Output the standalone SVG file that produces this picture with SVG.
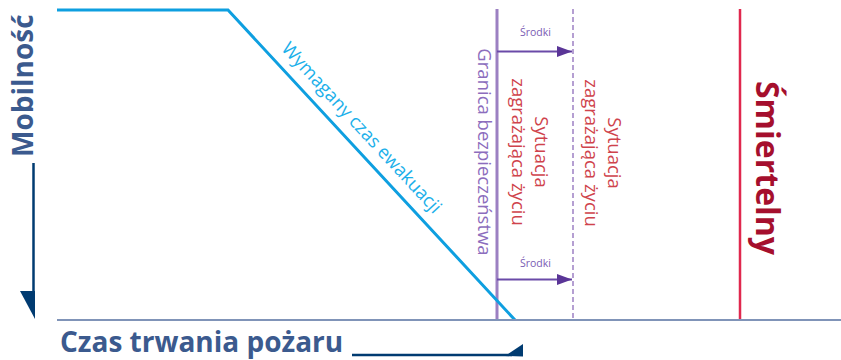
<svg xmlns="http://www.w3.org/2000/svg" width="841" height="360" viewBox="0 0 841 360">
<style>
.f{font-family:"Open Sans","Liberation Sans",sans-serif}
.ax{font-weight:700;fill:#3b5a8e;font-size:28px}
.red{font-size:18.5px;fill:#cf434c;text-anchor:middle}
.pur{fill:#8c6dbd}
.sr{font-size:10.5px;fill:#7a5bb3}
.nav{stroke:#003b71;stroke-width:2.5;fill:none}
.navf{fill:#003b71}
.pa{stroke:#6a4aa8;stroke-width:2;fill:none;marker-end:url(#ah)}
</style>
<defs>
<marker id="ah" markerUnits="userSpaceOnUse" markerWidth="16" markerHeight="12" refX="15" refY="6" orient="auto" viewBox="0 0 16 12">
<path d="M0,0.5 L15,6 L0,11.5 Z" fill="#5a3597"/>
</marker>
</defs>
<rect width="841" height="360" fill="#ffffff"/>

<g id="boundary-lines">
<line x1="497" y1="9" x2="497" y2="320" stroke="#9c80c2" stroke-width="3"/>
<line x1="573" y1="9" x2="573" y2="320" stroke="#9d80c4" stroke-width="1.5" stroke-dasharray="5 3"/>
<line x1="740" y1="9" x2="740" y2="320" stroke="#e0284e" stroke-width="2.5"/>
</g>

<g id="evacuation-curve">
<polyline points="57,10 228,10 515,320" fill="none" stroke="#0e9fe0" stroke-width="3"/>
<text class="f" transform="translate(357,132) rotate(47.2)" font-size="18.5" fill="#1cb0ea" text-anchor="middle">Wymagany czas ewakuacji</text>
</g>

<g id="time-axis">
<line x1="57" y1="320" x2="841" y2="320" stroke="#8094b8" stroke-width="2"/>
</g>

<g id="mobility-label">
<text class="f ax" transform="translate(33,157) rotate(-90)">Mobilność</text>
</g>
<g id="time-label">
<text class="f ax" x="60" y="352">Czas trwania pożaru</text>
</g>

<g id="safety-limit">
<text class="f pur" font-size="18.5" text-anchor="middle" transform="translate(478,152) rotate(90)">Granica bezpieczeństwa</text>
</g>

<g id="threat-1">
<text class="f red" transform="translate(535,152) rotate(90)">Sytuacja</text>
<text class="f red" transform="translate(512,152) rotate(90)">zagrażająca życiu</text>
</g>
<g id="threat-2">
<text class="f red" transform="translate(608,153) rotate(90)">Sytuacja</text>
<text class="f red" transform="translate(585,153) rotate(90)">zagrażająca życiu</text>
</g>

<g id="fatal">
<text class="f" font-weight="700" font-size="32" fill="#a50f2d" text-anchor="middle" transform="translate(756,168) rotate(90)">Śmiertelny</text>
</g>

<g id="measures-labels">
<text class="f sr" x="520" y="36">Środki</text>
<text class="f sr" x="520" y="267">Środki</text>
</g>

<g id="connectors">
<line class="nav" x1="33.5" y1="163" x2="33.5" y2="300"/>
<polygon class="navf" points="20,291 35,291 35,319"/>
<line class="nav" x1="352" y1="355" x2="512" y2="355"/>
<polygon class="navf" points="505,356 523,344 523,356.5"/>
<line class="pa" x1="497" y1="51.5" x2="572" y2="51.5"/>
<line class="pa" x1="497" y1="279.5" x2="572" y2="279.5"/>
</g>
</svg>
